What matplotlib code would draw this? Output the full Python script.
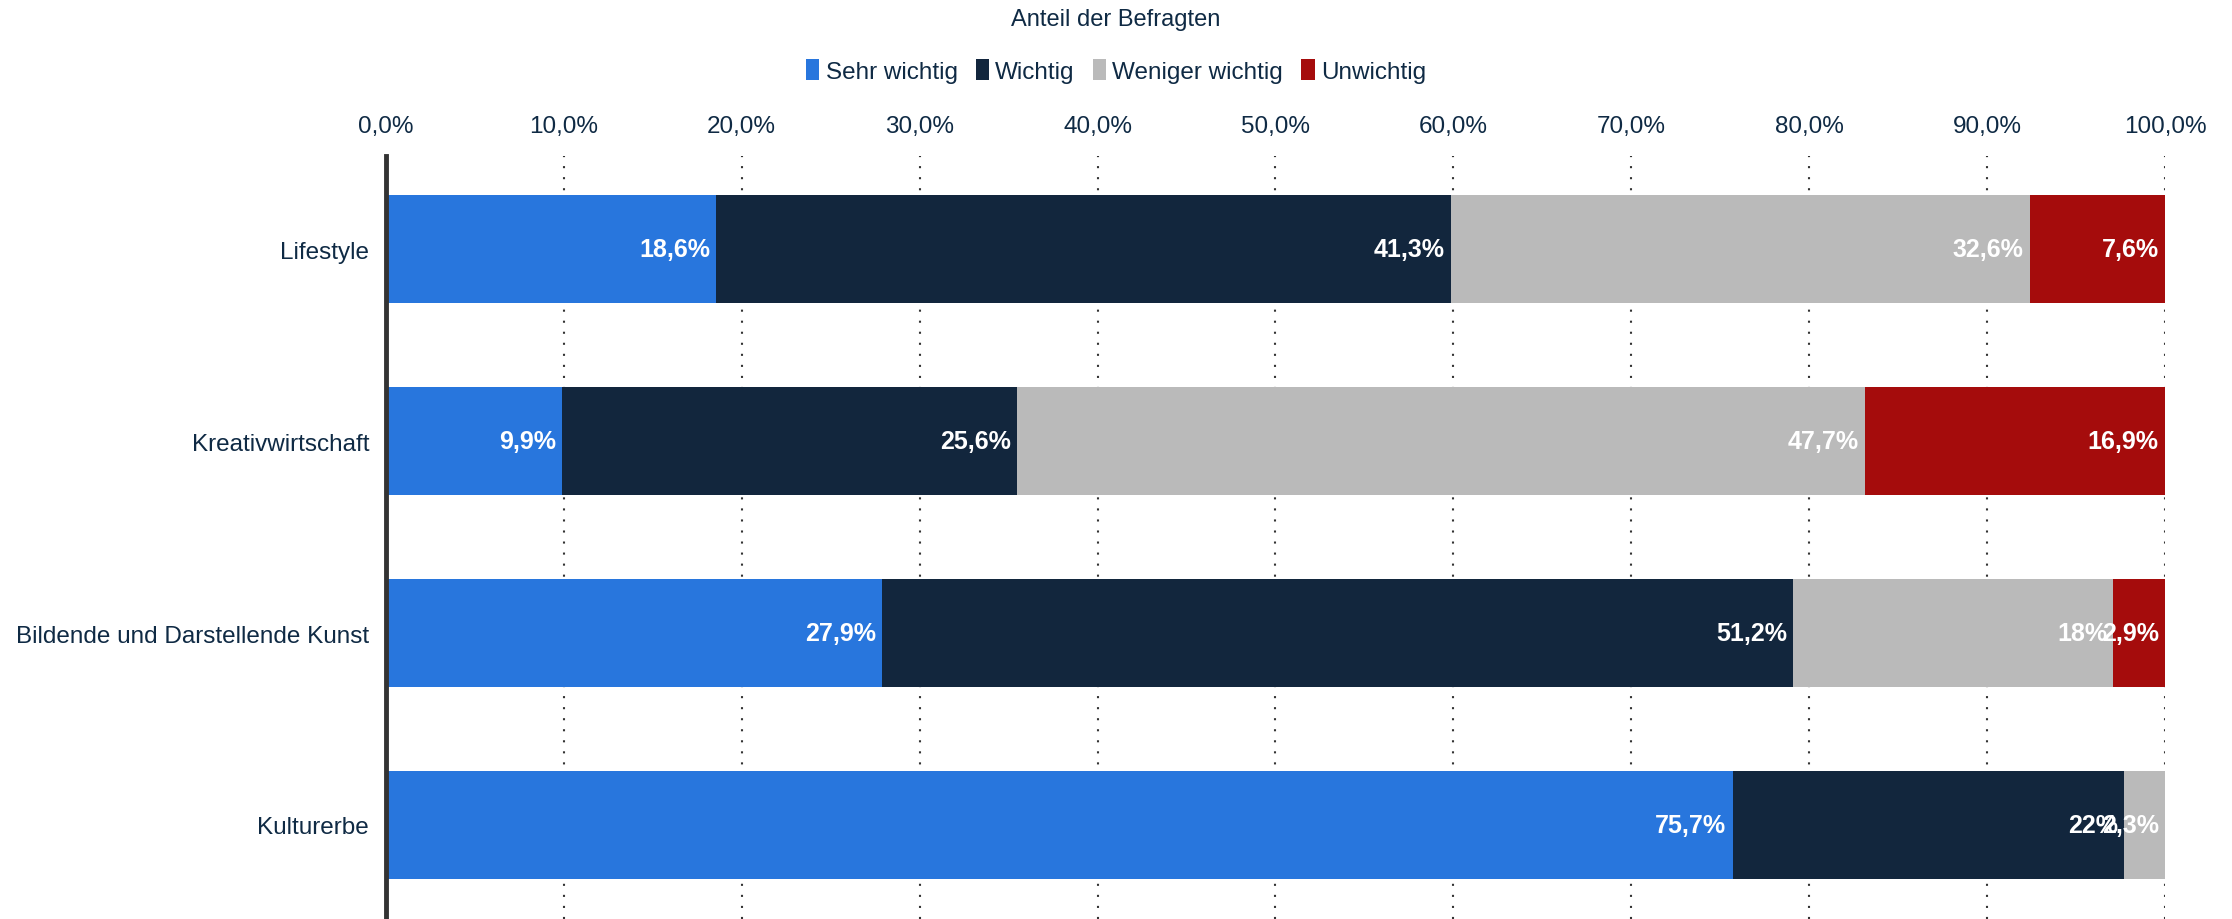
import matplotlib
matplotlib.use("Agg")
import matplotlib.pyplot as plt
import numpy as np
from matplotlib.ticker import FuncFormatter

plt.rcParams["font.family"] = ["Liberation Sans", "DejaVu Sans"]

categories = ["Lifestyle", "Kreativwirtschaft", "Bildende und Darstellende Kunst", "Kulturerbe"]
series_names = ["Sehr wichtig", "Wichtig", "Weniger wichtig", "Unwichtig"]
sehr_wichtig = [18.6, 9.9, 27.9, 75.7]
wichtig = [41.3, 25.6, 51.2, 22.0]
weniger_wichtig = [32.6, 47.7, 18.0, 2.3]
unwichtig = [7.6, 16.9, 2.9, 0.0]
xticks = [0, 10, 20, 30, 40, 50, 60, 70, 80, 90, 100]

colors = ["#2876dd", "#12263d", "#bababa", "#a50c0c"]
text_color = "#0f2a44"


def de_pct(v):
    if float(v).is_integer():
        return f"{int(v)}%"
    return f"{v:.1f}%".replace(".", ",")


values = np.array([sehr_wichtig, wichtig, weniger_wichtig, unwichtig])
# percent stacking: scale each row to 100
shares = values / values.sum(axis=0) * 100
y = np.arange(len(categories))

fig = plt.figure(figsize=(22.32, 9.2), dpi=100)
ax = fig.add_axes([0.1729, 0.0, 0.7971, 0.8293])

for xv in xticks[1:]:
    ax.axvline(xv, color="#333333", lw=1.5, ls=(0, (1, 4.3)), zorder=0)

left = np.zeros(len(categories))
for name, col, share, raw in zip(series_names, colors, shares, values):
    ax.barh(y, share, left=left, height=0.565, color=col, label=name, zorder=2)
    for yi, l, s, r in zip(y, left, share, raw):
        if r > 0:
            ax.text(l + s - 0.35, yi, de_pct(r), ha="right", va="center",
                    color="white", fontsize=18, fontweight="bold", zorder=3)
    left += share

ax.set_xlim(0, 100)
ax.set_ylim(3.49, -0.485)
ax.set_yticks(y)
ax.set_yticklabels(categories, fontsize=17.5, color=text_color)
ax.set_xticks(xticks)
ax.xaxis.set_major_formatter(FuncFormatter(lambda v, _: f"{v:.1f}%".replace(".", ",")))
ax.xaxis.tick_top()
ax.tick_params(axis="x", length=0, pad=14, labelsize=17.5, labelcolor=text_color)
ax.tick_params(axis="y", length=0, pad=12)
for side in ["top", "right", "bottom"]:
    ax.spines[side].set_visible(False)
ax.spines["left"].set_color("#333333")
ax.spines["left"].set_linewidth(3.5)

fig.text(0.5, 0.978, "Anteil der Befragten", ha="center", va="center",
         fontsize=17, color=text_color)
fig.legend(loc="center", bbox_to_anchor=(0.5, 0.922), ncol=4, frameon=False,
           fontsize=17.5, handlelength=0.55, handleheight=1.0, handletextpad=0.25,
           columnspacing=0.75, labelcolor=text_color)

fig.savefig("out.png", dpi=100)
